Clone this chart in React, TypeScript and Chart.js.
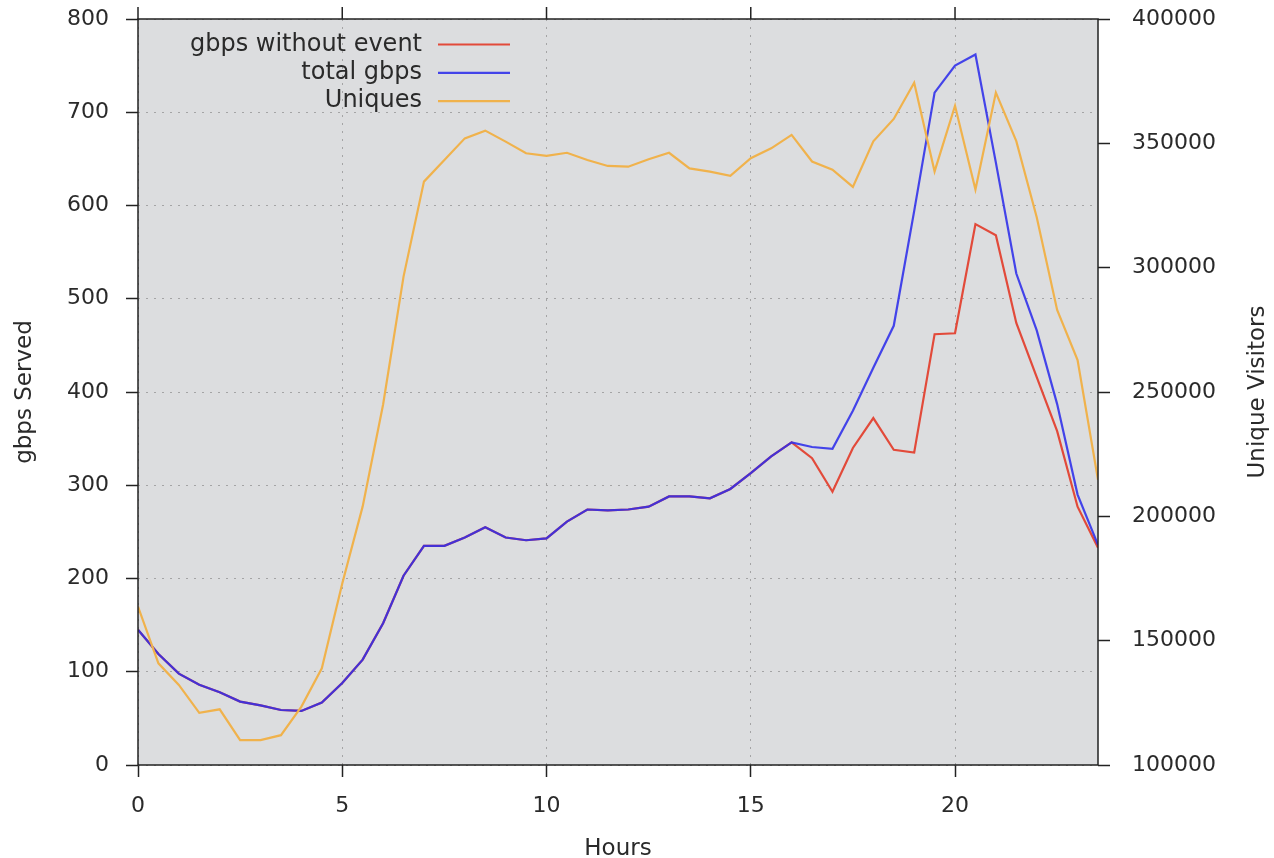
import React, { useEffect, useRef } from "react";
import { Chart, registerables } from "chart.js";

Chart.register(...registerables);

// ---- data ----
const hours = [
  0, 0.5, 1, 1.5, 2, 2.5, 3, 3.5, 4, 4.5, 5, 5.5, 6, 6.5, 7, 7.5, 8, 8.5, 9, 9.5,
  10, 10.5, 11, 11.5, 12, 12.5, 13, 13.5, 14, 14.5, 15, 15.5, 16, 16.5, 17, 17.5,
  18, 18.5, 19, 19.5, 20, 20.5, 21, 21.5, 22, 22.5, 23, 23.5,
];

const gbpsWithoutEvent = [
  145, 119, 98, 86, 78, 68, 64, 59, 58, 67, 88, 113, 152, 203, 235, 235, 244, 255, 244, 241,
  243, 261, 274, 273, 274, 277, 288, 288, 286, 296, 313, 331, 346, 329, 293, 340,
  372, 338, 335, 462, 463, 580, 568, 474, 416, 358, 277, 233,
];

const totalGbps = [
  145, 119, 98, 86, 78, 68, 64, 59, 58, 67, 88, 113, 152, 203, 235, 235, 244, 255, 244, 241,
  243, 261, 274, 273, 274, 277, 288, 288, 286, 296, 313, 331, 346, 341, 339, 380,
  426, 471, 594, 721, 750, 762, 646, 527, 466, 387, 290, 236,
];

const uniques = [
  163700, 140900, 132200, 121000, 122400, 110000, 110000, 112000, 123500, 138900,
  173000, 204000, 245000, 296400, 334600, 343300, 352000, 355100, 350700, 346000,
  345000, 346200, 343300, 340900, 340600, 343600, 346200, 339900, 338600, 336900,
  344000, 348000, 353400, 342700, 339400, 332500, 350800, 359800, 374400, 338700,
  365100, 331400, 370400, 350900, 320300, 283000, 262800, 214700,
];

const seriesLabels = ["gbps without event", "total gbps", "Uniques"];
const seriesColors = ["rgb(226,74,58)", "rgba(45,45,235,0.88)", "rgb(240,178,76)"];
const xTickValues = [0, 5, 10, 15, 20];
const xTitle = "Hours";
const yTitle = "gbps Served";
const y2Title = "Unique Visitors";

const FONT = "'DejaVu Sans', sans-serif";
const TEXT = "#2a2a2a";
const AXIS = "#222222";

const toPoints = (vals: number[]) => vals.map((v, i) => ({ x: hours[i], y: v }));

const decorPlugin = {
  id: "decor",
  beforeDraw(chart: any) {
    const { ctx, chartArea: a } = chart;
    ctx.save();
    ctx.fillStyle = "#dcdddf";
    ctx.fillRect(a.left, a.top, a.right - a.left, a.bottom - a.top);
    ctx.restore();
  },
  afterDraw(chart: any) {
    const { ctx, chartArea: a } = chart;
    ctx.save();
    // frame
    ctx.strokeStyle = AXIS;
    ctx.lineWidth = 1.5;
    ctx.strokeRect(a.left, a.top, a.right - a.left, a.bottom - a.top);
    // mirrored x ticks on top border
    const xs = chart.scales.x;
    xTickValues.forEach((v) => {
      const px = xs.getPixelForValue(v);
      ctx.beginPath();
      ctx.moveTo(px, a.top);
      ctx.lineTo(px, a.top - 12);
      ctx.stroke();
    });
    // legend
    ctx.font = `24px ${FONT}`;
    ctx.textAlign = "right";
    ctx.textBaseline = "middle";
    seriesLabels.forEach((lab, i) => {
      const y = a.top + 25.5 + i * 28.3;
      ctx.fillStyle = TEXT;
      ctx.fillText(lab, a.left + 284, y);
      ctx.strokeStyle = seriesColors[i];
      ctx.lineWidth = 2.2;
      ctx.beginPath();
      ctx.moveTo(a.left + 300, y);
      ctx.lineTo(a.left + 372, y);
      ctx.stroke();
    });
    // right axis title (reads bottom to top)
    ctx.font = `23px ${FONT}`;
    ctx.fillStyle = TEXT;
    ctx.textAlign = "center";
    ctx.textBaseline = "middle";
    ctx.translate(a.right + 160, (a.top + a.bottom) / 2);
    ctx.rotate(-Math.PI / 2);
    ctx.fillText(y2Title, 0, 0);
    ctx.restore();
  },
};

export default function App() {
  const canvasRef = useRef<HTMLCanvasElement | null>(null);

  useEffect(() => {
    if (!canvasRef.current) return;
    const gridCommon = {
      color: "rgba(140,140,140,0.7)",
      lineWidth: 1,
      drawTicks: true,
      tickLength: 12,
      tickColor: AXIS,
      tickWidth: 1.5,
      tickBorderDash: [],
    };
    const lineBase = { borderWidth: 2.2, pointRadius: 0, tension: 0 };
    const chart = new Chart(canvasRef.current, {
      type: "line",
      data: {
        datasets: [
          {
            ...lineBase,
            label: seriesLabels[0],
            data: toPoints(gbpsWithoutEvent),
            borderColor: seriesColors[0],
            yAxisID: "y",
            order: 2,
          },
          {
            ...lineBase,
            label: seriesLabels[1],
            data: toPoints(totalGbps),
            borderColor: seriesColors[1],
            yAxisID: "y",
            order: 1,
          },
          {
            ...lineBase,
            label: seriesLabels[2],
            data: toPoints(uniques),
            borderColor: seriesColors[2],
            yAxisID: "y2",
            order: 0,
          },
        ],
      },
      options: {
        animation: false,
        responsive: false,
        maintainAspectRatio: false,
        layout: { padding: { top: 19, left: 0, right: 0, bottom: 0 } },
        plugins: {
          legend: { display: false },
          tooltip: { enabled: false },
          title: { display: false },
        },
        scales: {
          x: {
            type: "linear",
            min: 0,
            max: 23.5,
            afterBuildTicks: (s: any) => {
              s.ticks = xTickValues.map((v) => ({ value: v }));
            },
            afterFit: (s: any) => {
              s.height = 93;
              s.paddingLeft = 0;
              s.paddingRight = 0;
            },
            grid: { ...gridCommon },
            border: { display: false, dash: [2, 6] },
            ticks: {
              padding: 16,
              maxRotation: 0,
              autoSkip: false,
              color: TEXT,
              font: { family: FONT, size: 22 },
            },
            title: {
              display: true,
              text: xTitle,
              color: TEXT,
              font: { family: FONT, size: 23, lineHeight: 0.74 },
              padding: { top: 0, bottom: 0 },
            },
          },
          y: {
            type: "linear",
            position: "left",
            min: 0,
            max: 800,
            afterFit: (s: any) => {
              s.width = 138;
              s.paddingTop = 0;
              s.paddingBottom = 0;
            },
            grid: { ...gridCommon },
            border: { display: false, dash: [2, 6] },
            ticks: {
              stepSize: 100,
              padding: 17,
              color: TEXT,
              font: { family: FONT, size: 22 },
            },
            title: {
              display: true,
              text: yTitle,
              color: TEXT,
              font: { family: FONT, size: 23, lineHeight: 1 },
              padding: { top: 14, bottom: 0 },
            },
          },
          y2: {
            type: "linear",
            position: "right",
            min: 100000,
            max: 400000,
            afterFit: (s: any) => {
              s.width = 176;
              s.paddingTop = 0;
              s.paddingBottom = 0;
            },
            grid: { ...gridCommon, drawOnChartArea: false },
            border: { display: false },
            ticks: {
              stepSize: 50000,
              padding: 22,
              color: TEXT,
              font: { family: FONT, size: 22 },
              callback: (v: any) => String(v),
            },
          },
        },
      },
      plugins: [decorPlugin],
    } as any);
    return () => chart.destroy();
  }, []);

  return (
    <div style={{ position: "fixed", left: 0, top: 0, width: 1274, height: 858, background: "#fff" }}>
      <canvas ref={canvasRef} width={1274} height={858} style={{ display: "block" }} />
    </div>
  );
}
